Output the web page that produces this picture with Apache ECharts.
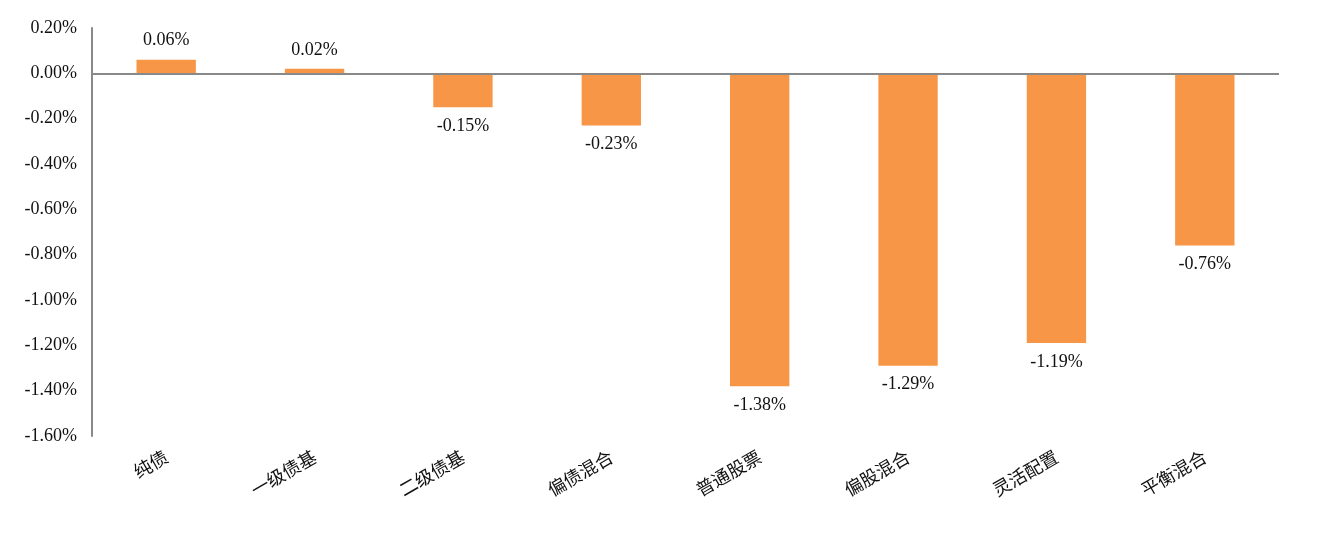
<!DOCTYPE html>
<html><head><meta charset="utf-8">
<script src="https://cdn.jsdelivr.net/npm/echarts@6/dist/echarts.min.js"></script>
<style>html,body{margin:0;padding:0;background:#fff}#c{width:1327px;height:540px}</style>
</head><body><div id="c"></div>
<script>
const categories = ['纯债','一级债基','二级债基','偏债混合','普通股票','偏股混合','灵活配置','平衡混合'];
const values = [0.06, 0.02, -0.15, -0.23, -1.38, -1.29, -1.19, -0.76];
const yMin = -1.6, yMax = 0.2, yStep = 0.2;

const chart = echarts.init(document.getElementById('c'));
const numFont = "'Liberation Serif','Noto Sans CJK SC',serif";
chart.setOption({
  animation: false,
  grid: {left: 92, right: 48, top: 28, bottom: 104},
  xAxis: {
    type: 'category', data: categories,
    axisLine: {show: false, onZero: false},
    axisTick: {show: false},
    axisLabel: {rotate: 30, margin: 19, fontSize: 18, color: '#111', fontFamily: "'Noto Sans CJK SC',sans-serif", interval: 0}
  },
  yAxis: {
    type: 'value', min: yMin, max: yMax, interval: yStep,
    axisLine: {show: true, lineStyle: {color: '#898989', width: 2}},
    axisTick: {show: false},
    splitLine: {show: false},
    axisLabel: {margin: 15, fontSize: 18, color: '#111', fontFamily: numFont,
      formatter: v => v.toFixed(2) + '%'}
  },
  series: [{
    type: 'bar', data: values.map(v => ({value: v, label: {position: v >= 0 ? 'top' : 'bottom'}})),
    barWidth: '40%',
    itemStyle: {color: '#F79646'},
    label: {show: true, distance: 10, fontSize: 18, color: '#111', fontFamily: numFont,
      formatter: p => p.value.toFixed(2) + '%'},
    markLine: {silent: true, symbol: 'none', label: {show: false},
      lineStyle: {color: '#898989', width: 2, type: 'solid'},
      data: [{yAxis: 0}]}
  }]
});
</script></body></html>
